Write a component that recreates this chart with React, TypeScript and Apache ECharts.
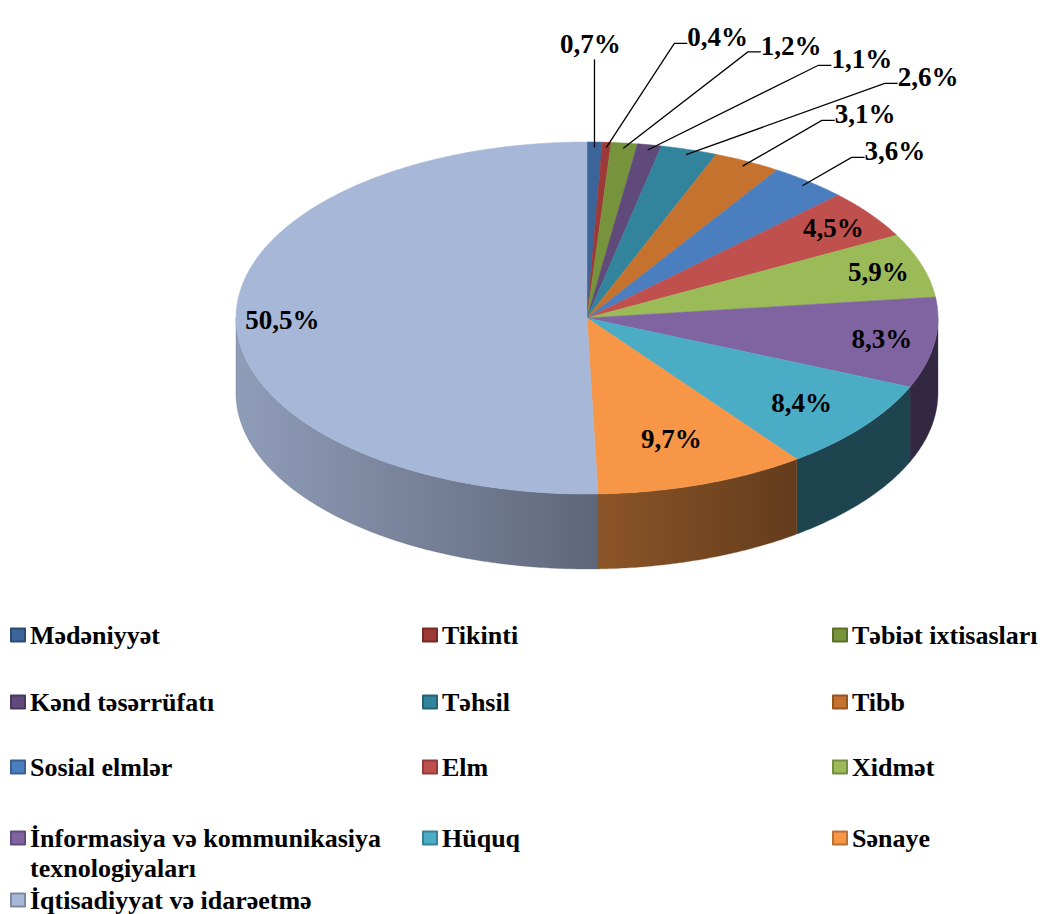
import React, { useEffect, useRef } from "react";
import * as echarts from "echarts";

// ---------- data ----------
const CATEGORIES = [
  "Mədəniyyət",
  "Tikinti",
  "Təbiət ixtisasları",
  "Kənd təsərrüfatı",
  "Təhsil",
  "Tibb",
  "Sosial elmlər",
  "Elm",
  "Xidmət",
  "İnformasiya və kommunikasiya texnologiyaları",
  "Hüquq",
  "Sənaye",
  "İqtisadiyyat və idarəetmə",
];
const VALUES = [0.7, 0.4, 1.2, 1.1, 2.6, 3.1, 3.6, 4.5, 5.9, 8.3, 8.4, 9.7, 50.5];

// legend grid (rows of category indices)
const LEGEND_ROWS = [
  [0, 1, 2],
  [3, 4, 5],
  [6, 7, 8],
  [9, 10, 11],
  [12],
];

// ---------- styles ----------
const COLORS = [
  "#3b6499",
  "#9d3936",
  "#77933c",
  "#5f4a7b",
  "#31849b",
  "#c5722e",
  "#4a7ebf",
  "#c0504d",
  "#9bbb59",
  "#8064a2",
  "#4bacc6",
  "#f79646",
  "#a7b7d7",
];
const FONT = "Liberation Serif";
const CX = 587;
const CY = 318;
const RX = 351;
const RY = 176;
const DEPTH = 75;
const WRAP_CHARS = 28;

const TOTAL = VALUES.reduce((a, b) => a + b, 0);
const STARTS: number[] = [];
{
  let acc = 0;
  VALUES.forEach((v) => {
    STARTS.push((acc / TOTAL) * 360);
    acc += v;
  });
}

const rad = (d: number) => (d * Math.PI) / 180;
const pt = (deg: number, r: number, dy = 0): [number, number] => [
  CX + RX * r * Math.sin(rad(deg)),
  CY - RY * r * Math.cos(rad(deg)) + dy,
];
const arc = (a: number, b: number, r: number, dy: number) => {
  const n = Math.max(2, Math.ceil(Math.abs(b - a) / 0.5));
  const out: [number, number][] = [];
  for (let k = 0; k <= n; k++) out.push(pt(a + ((b - a) * k) / n, r, dy));
  return out;
};
const shade = (hex: string, f: number) => {
  const n = parseInt(hex.slice(1), 16);
  const r = Math.round(((n >> 16) & 255) * f);
  const g = Math.round(((n >> 8) & 255) * f);
  const b = Math.round((n & 255) * f);
  return `rgb(${r},${g},${b})`;
};
const fmt = (v: number) => v.toFixed(1).replace(".", ",") + "%";

// word-wrap a legend name into lines of at most WRAP_CHARS characters
const wrapWords = (name: string) => {
  const lines: string[] = [];
  let cur = "";
  name.split(" ").forEach((w) => {
    const next = cur ? cur + " " + w : w;
    if (next.length > WRAP_CHARS && cur) {
      lines.push(cur);
      cur = w;
    } else cur = next;
  });
  if (cur) lines.push(cur);
  return lines;
};

// label layout derived from the slice angles
type Lab = {
  inside: boolean;
  x: number;
  y: number;
  anchor?: [number, number];
  elbow?: [number, number];
  vertical?: boolean;
};
const LABELS: Lab[] = (() => {
  const res: Lab[] = [];
  let prevTheta = -Infinity;
  let prevElbow: [number, number] | null = null;
  VALUES.forEach((v, i) => {
    const mid = STARTS[i] + (v / TOTAL) * 180;
    if (v >= 4) {
      const c = Math.cos(rad(mid));
      const f = 0.87 - 0.15 * Math.max(0, -c);
      const [x, y] = pt(mid, f);
      res.push({ inside: true, x, y });
      return;
    }
    const anchor = pt(mid, 0.97);
    const theta = Math.max(mid, prevTheta + 7.8);
    let elbow = pt(theta, 1.58);
    if (elbow[0] > 890 && prevElbow) {
      const y = prevElbow[1] + 37;
      elbow = [anchor[0] + (anchor[1] - y) * Math.sqrt(3), y];
    }
    prevTheta = theta;
    prevElbow = elbow;
    const vertical = Math.abs(elbow[0] - anchor[0]) < 10;
    if (vertical) elbow = [anchor[0], pt(theta, 1.47)[1]];
    res.push({ inside: false, x: elbow[0], y: elbow[1], anchor, elbow, vertical });
  });
  return res;
})();

const labelStyle = (text: string, align: string, vAlign: string) => ({
  text,
  fontFamily: FONT,
  fontWeight: "bold",
  fontSize: 27,
  fill: "#000",
  align,
  verticalAlign: vAlign,
});

const renderItem = (params: any, api: any) => {
  const i = params.dataIndex;
  const v = api.value(0) as number;
  const s = STARTS[i];
  const e = s + (v / TOTAL) * 360;
  const children: any[] = [];
  const a = Math.max(s, 90);
  const b = Math.min(e, 270);
  if (b > a) {
    const pts = [...arc(a, b, 1, 0), ...arc(b, a, 1, DEPTH)];
    children.push({
      type: "polygon",
      shape: { points: pts },
      style: {
        fill: new echarts.graphic.LinearGradient(
          CX - RX,
          0,
          CX + RX * 0.6,
          0,
          [
            { offset: 0, color: shade(COLORS[i], 0.86) },
            { offset: 1, color: shade(COLORS[i], 0.4) },
          ],
          true
        ),
        stroke: shade(COLORS[i], 0.5),
        lineWidth: 0.3,
      },
      z2: 1,
    });
  }
  children.push({
    type: "polygon",
    shape: { points: [[CX, CY], ...arc(s, e, 1, 0)] },
    style: { fill: COLORS[i], stroke: COLORS[i], lineWidth: 0.5 },
    z2: 2,
  });
  const L = LABELS[i];
  const text = fmt(v);
  if (L.inside) {
    children.push({
      type: "text",
      x: L.x,
      y: L.y,
      style: labelStyle(text, "center", "middle"),
      z2: 20,
    });
  } else {
    const an = L.anchor!;
    const el = L.elbow!;
    if (L.vertical) {
      children.push({
        type: "polyline",
        shape: { points: [an, el] },
        style: { stroke: "#000", lineWidth: 1.3, fill: null },
        z2: 15,
      });
      children.push({
        type: "text",
        x: el[0] - 4,
        y: el[1] - 2,
        style: labelStyle(text, "center", "bottom"),
        z2: 20,
      });
    } else {
      const tail: [number, number] = [el[0] + 13, el[1]];
      children.push({
        type: "polyline",
        shape: { points: [an, el, tail] },
        style: { stroke: "#000", lineWidth: 1.3, fill: null },
        z2: 15,
      });
      children.push({
        type: "text",
        x: tail[0],
        y: el[1] - 6,
        style: labelStyle(text, "left", "middle"),
        z2: 20,
      });
    }
  }
  return { type: "group", children };
};

// legend rows: text centre lines
const ROW_CENTERS = [635, 702, 767, 838, 900];
const COL_LEFTS = [10, 422, 832];
const LINE_H = 30;

const legendText = {
  fontFamily: FONT,
  fontWeight: "bold",
  fontSize: 26,
  color: "#000",
  lineHeight: LINE_H,
};

const legendBase = {
  orient: "horizontal",
  padding: 0,
  itemGap: 0,
  itemWidth: 14,
  itemHeight: 13,
  icon: "rect",
  selectedMode: false,
  width: 1100,
  // multi-line names: a blank first line keeps the marker level with the first text line
  formatter: (name: string) => {
    const lines = wrapWords(name);
    if (lines.length < 2) return name;
    const spacer = lines.slice(2).map(() => "{s| }");
    return ["{s| }", ...spacer, ...lines.map((l) => `{t|${l}}`)].join("\n");
  },
  textStyle: {
    ...legendText,
    rich: {
      s: { ...legendText },
      t: { ...legendText },
    },
  },
};

const legends: any[] = [];
LEGEND_ROWS.forEach((row, r) => {
  const c = ROW_CENTERS[r];
  row.forEach((idx, col) => {
    const name = CATEGORIES[idx];
    const nLines = wrapWords(name).length;
    const blockLines = nLines < 2 ? 1 : 2 * nLines - 1;
    legends.push({
      ...legendBase,
      left: COL_LEFTS[col],
      top: c - (blockLines * LINE_H) / 2,
      data: [{ name }],
    });
  });
});

const option: any = {
  animation: false,
  backgroundColor: "#ffffff",
  legend: legends,
  series: [
    {
      type: "custom",
      coordinateSystem: "none",
      silent: true,
      renderItem,
      data: VALUES.map((v) => [v]),
    },
    {
      type: "pie",
      radius: [0, 0],
      center: [-100, -100],
      silent: true,
      label: { show: false },
      labelLine: { show: false },
      data: CATEGORIES.map((name, i) => ({
        name,
        value: VALUES[i],
        itemStyle: {
          color: COLORS[i],
          borderColor: shade(COLORS[i], 0.75),
          borderWidth: 1,
        },
      })),
    },
  ],
};

export default function App() {
  const ref = useRef<HTMLDivElement>(null);
  useEffect(() => {
    const chart = echarts.init(ref.current!, null, { renderer: "svg" });
    chart.setOption(option);
    return () => chart.dispose();
  }, []);
  return (
    <div
      ref={ref}
      style={{
        position: "fixed",
        left: 0,
        top: 0,
        width: 1043,
        height: 914,
        background: "#fff",
      }}
    />
  );
}
